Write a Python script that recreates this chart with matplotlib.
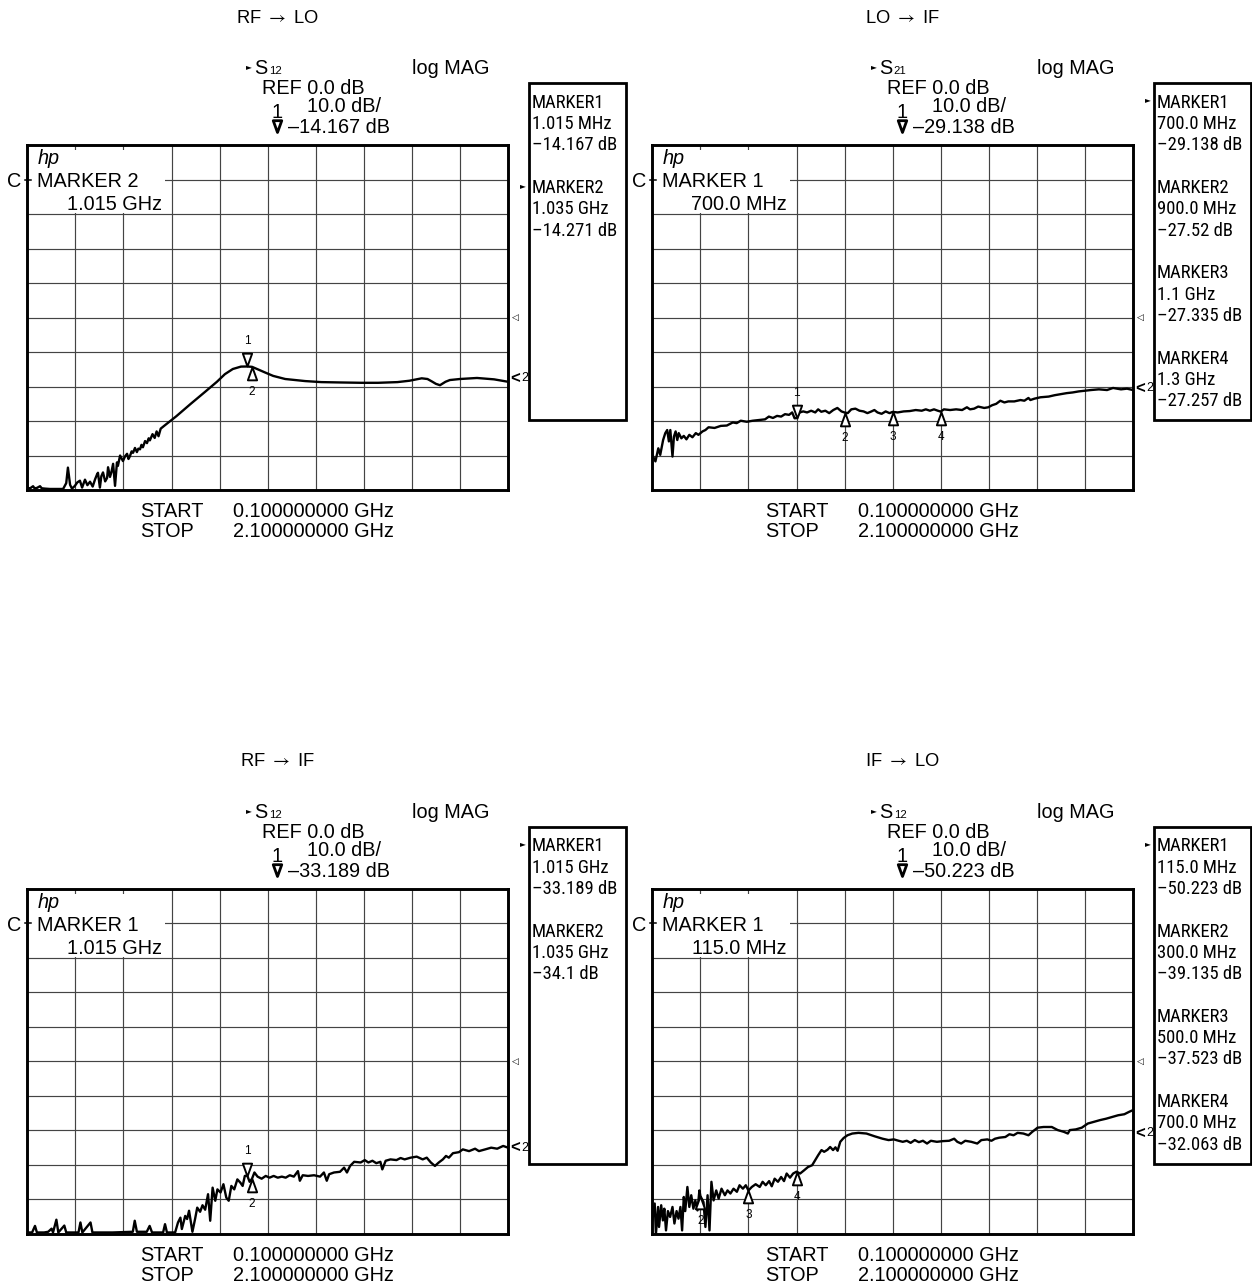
import matplotlib
matplotlib.use("Agg")
import matplotlib.pyplot as plt
import numpy as np
from matplotlib.path import Path
from matplotlib.patches import Rectangle
from matplotlib.lines import Line2D
from matplotlib import font_manager as fm

# ---------------- sweep / display settings ----------------
F_START, F_STOP = 0.1, 2.1            # GHz
REF_DB, DB_PER_DIV, N_DIV = 0.0, 10.0, 10

# ---------------- panel texts ----------------
titles = [("RF", "LO"), ("LO", "IF"), ("RF", "IF"), ("IF", "LO")]
s_params = ["12", "21", "12", "12"]
active_names = ["MARKER 2", "MARKER 1", "MARKER 1", "MARKER 1"]
active_freqs = ["1.015 GHz", "700.0 MHz", "1.015 GHz", "115.0 MHz"]
active_index = [1, 0, 0, 0]
start_label = "0.100000000 GHz"
stop_label = "2.100000000 GHz"

# ---------------- marker readouts ----------------
mk_rf_lo_f = [1.015, 1.035]
mk_rf_lo_db = [-14.167, -14.271]
mk_rf_lo_txt = ["1.015 MHz", "1.035 GHz"]

mk_lo_if_f = [0.7, 0.9, 1.1, 1.3]
mk_lo_if_db = [-29.138, -27.52, -27.335, -27.257]
mk_lo_if_txt = ["700.0 MHz", "900.0 MHz", "1.1 GHz", "1.3 GHz"]

mk_rf_if_f = [1.015, 1.035]
mk_rf_if_db = [-33.189, -34.1]
mk_rf_if_txt = ["1.015 GHz", "1.035 GHz"]

mk_if_lo_f = [0.115, 0.3, 0.5, 0.7]
mk_if_lo_db = [-50.223, -39.135, -37.523, -32.063]
mk_if_lo_txt = ["115.0 MHz", "300.0 MHz", "500.0 MHz", "700.0 MHz"]

# channel-2 reference level indicators
ch2_ref_db = [-17.6, -20.5, -25.1, -20.9]

# ---------------- measured traces (GHz, dB) ----------------
rf_lo_f = [0.100, 0.112, 0.124, 0.130, 0.140, 0.153, 0.160, 0.174, 0.194, 0.249,
           0.262, 0.269, 0.278, 0.286, 0.298, 0.308, 0.319, 0.328, 0.340, 0.350,
           0.361, 0.372, 0.382, 0.390, 0.394, 0.402, 0.408, 0.415, 0.424, 0.432,
           0.436, 0.444, 0.450, 0.457, 0.465, 0.473, 0.477, 0.486, 0.498, 0.507,
           0.515, 0.521, 0.527, 0.534, 0.540, 0.548, 0.556, 0.562, 0.569, 0.575,
           0.581, 0.590, 0.598, 0.605, 0.610, 0.621, 0.630, 0.638, 0.646, 0.655,
           0.671, 0.720, 0.780, 0.840, 0.889, 0.922, 0.955, 0.989, 1.015, 1.035,
           1.056, 1.089, 1.123, 1.173, 1.256, 1.323, 1.400, 1.490, 1.560, 1.640,
           1.690, 1.741, 1.765, 1.783, 1.800, 1.817, 1.840, 1.858, 1.900, 1.971,
           2.042, 2.100]
rf_lo_db = [-49.4, -49.5, -48.9, -49.5, -49.4, -48.9, -49.5, -49.6, -49.7, -49.7,
            -48.0, -43.5, -48.5, -49.6, -48.8, -47.8, -47.3, -49.3, -47.0, -48.6,
            -47.6, -49.0, -46.9, -45.5, -45.0, -49.3, -46.0, -44.9, -47.5, -46.5,
            -43.4, -46.2, -44.8, -42.4, -48.8, -42.0, -43.0, -40.0, -41.6, -40.2,
            -39.5, -41.0, -40.2, -38.8, -39.2, -37.8, -39.0, -38.0, -38.2, -36.9,
            -37.6, -35.8, -36.4, -35.0, -35.6, -33.8, -34.9, -33.0, -34.4, -32.2,
            -31.3, -28.6, -25.0, -21.5, -18.6, -16.4, -14.9, -14.2, -14.167, -14.271,
            -14.9, -15.9, -16.9, -17.8, -18.4, -18.7, -18.8, -18.9, -18.9, -18.7,
            -18.3, -17.6, -17.8, -18.5, -19.2, -19.6, -18.6, -18.1, -17.8, -17.5,
            -17.9, -18.6]

lo_if_f = [0.100, 0.113, 0.125, 0.133, 0.145, 0.154, 0.162, 0.169, 0.175, 0.184,
           0.190, 0.197, 0.204, 0.210, 0.221, 0.231, 0.242, 0.254, 0.267, 0.281,
           0.292, 0.309, 0.321, 0.334, 0.359, 0.385, 0.410, 0.435, 0.451, 0.468,
           0.493, 0.518, 0.544, 0.569, 0.585, 0.602, 0.619, 0.636, 0.652, 0.669,
           0.682, 0.692, 0.700, 0.713, 0.728, 0.744, 0.761, 0.778, 0.790, 0.803,
           0.820, 0.836, 0.853, 0.870, 0.887, 0.900, 0.913, 0.928, 0.945, 0.962,
           0.979, 0.995, 1.012, 1.024, 1.037, 1.054, 1.071, 1.087, 1.100, 1.121,
           1.146, 1.171, 1.196, 1.221, 1.238, 1.255, 1.272, 1.288, 1.300, 1.313,
           1.339, 1.364, 1.389, 1.409, 1.422, 1.439, 1.456, 1.481, 1.498, 1.514,
           1.531, 1.548, 1.565, 1.581, 1.606, 1.632, 1.648, 1.665, 1.673, 1.690,
           1.715, 1.749, 1.774, 1.799, 1.824, 1.849, 1.874, 1.900, 1.925, 1.958,
           1.992, 2.017, 2.050, 2.075, 2.100]
lo_if_db = [-39.8, -41.7, -37.9, -39.8, -35.5, -33.5, -32.6, -35.9, -32.6, -40.3,
            -34.5, -33.0, -35.5, -33.5, -35.0, -34.3, -35.3, -34.0, -34.7, -33.5,
            -34.0, -33.0, -32.6, -31.8, -32.0, -31.4, -31.3, -30.4, -30.6, -29.9,
            -30.2, -29.9, -29.7, -29.5, -28.7, -29.1, -28.5, -28.7, -28.0, -28.2,
            -27.5, -29.2, -29.138, -27.5, -27.2, -27.5, -27.0, -27.5, -26.6, -27.3,
            -27.0, -27.7, -26.8, -26.2, -27.2, -27.52, -27.7, -26.6, -26.4, -27.0,
            -27.2, -27.7, -27.2, -26.8, -27.5, -27.9, -27.2, -27.7, -27.335, -27.5,
            -27.2, -27.1, -26.8, -27.0, -26.6, -27.0, -26.6, -27.0, -27.257, -26.6,
            -26.8, -26.6, -26.8, -26.0, -26.6, -26.4, -25.8, -26.2, -26.0, -25.4,
            -25.0, -24.1, -24.6, -24.3, -24.3, -23.9, -24.1, -23.3, -23.9, -23.5,
            -23.1, -22.9, -22.5, -22.2, -21.9, -21.7, -21.4, -21.2, -21.0, -20.8,
            -21.0, -20.4, -20.8, -20.6, -21.0]

rf_if_f = [0.100, 0.120, 0.132, 0.140, 0.170, 0.187, 0.201, 0.207, 0.221, 0.229,
           0.254, 0.262, 0.313, 0.321, 0.329, 0.363, 0.371, 0.455, 0.539, 0.547,
           0.556, 0.597, 0.609, 0.619, 0.665, 0.673, 0.681, 0.715, 0.727, 0.737,
           0.743, 0.757, 0.765, 0.773, 0.787, 0.798, 0.807, 0.819, 0.829, 0.840,
           0.852, 0.861, 0.871, 0.882, 0.891, 0.904, 0.916, 0.928, 0.938, 0.949,
           0.961, 0.974, 0.986, 0.996, 1.005, 1.015, 1.025, 1.035, 1.045, 1.058,
           1.075, 1.092, 1.108, 1.125, 1.142, 1.159, 1.175, 1.192, 1.209, 1.226,
           1.234, 1.246, 1.268, 1.293, 1.318, 1.334, 1.346, 1.356, 1.376, 1.401,
           1.418, 1.430, 1.443, 1.460, 1.487, 1.504, 1.519, 1.536, 1.552, 1.569,
           1.577, 1.591, 1.611, 1.636, 1.653, 1.670, 1.695, 1.720, 1.745, 1.762,
           1.779, 1.796, 1.812, 1.829, 1.842, 1.854, 1.871, 1.896, 1.912, 1.938,
           1.963, 1.979, 2.005, 2.030, 2.055, 2.080, 2.100]
rf_if_db = [-49.7, -49.7, -47.8, -49.7, -49.7, -49.5, -48.6, -49.7, -46.0, -49.7,
            -47.7, -49.7, -49.7, -46.8, -49.7, -46.8, -49.7, -49.7, -49.5, -46.3,
            -49.5, -49.5, -47.8, -49.7, -49.7, -47.3, -49.7, -49.7, -46.8, -45.4,
            -48.7, -44.9, -45.8, -43.4, -49.5, -45.8, -42.5, -43.7, -41.8, -43.1,
            -38.6, -46.3, -36.7, -40.5, -37.2, -38.1, -35.7, -39.6, -40.5, -36.2,
            -37.2, -34.3, -35.2, -36.2, -33.3, -33.189, -35.0, -34.1, -32.3, -33.5,
            -34.1, -33.3, -33.8, -33.3, -33.8, -33.5, -33.8, -33.1, -33.5, -31.9,
            -34.7, -33.1, -33.3, -33.1, -33.5, -32.3, -34.7, -32.8, -32.3, -32.1,
            -30.9, -32.3, -30.4, -29.2, -29.4, -28.7, -29.4, -28.9, -29.6, -29.2,
            -31.4, -28.9, -28.5, -28.7, -28.1, -28.5, -28.0, -27.7, -28.5, -28.0,
            -29.4, -30.4, -29.4, -28.5, -27.5, -28.0, -26.7, -26.4, -25.6, -26.1,
            -25.4, -26.1, -25.6, -25.1, -25.4, -24.6, -25.1]

if_lo_f = [0.100, 0.110, 0.115, 0.124, 0.128, 0.137, 0.144, 0.150, 0.157, 0.165,
           0.174, 0.184, 0.192, 0.201, 0.209, 0.217, 0.224, 0.231, 0.237, 0.246,
           0.254, 0.262, 0.271, 0.279, 0.288, 0.296, 0.300, 0.313, 0.321, 0.330,
           0.338, 0.346, 0.355, 0.366, 0.376, 0.388, 0.402, 0.413, 0.425, 0.438,
           0.452, 0.463, 0.477, 0.489, 0.500, 0.514, 0.530, 0.547, 0.559, 0.572,
           0.586, 0.597, 0.609, 0.623, 0.636, 0.648, 0.659, 0.673, 0.686, 0.700,
           0.715, 0.731, 0.748, 0.765, 0.777, 0.790, 0.804, 0.815, 0.829, 0.840,
           0.852, 0.862, 0.871, 0.882, 0.896, 0.912, 0.932, 0.958, 0.991, 1.025,
           1.058, 1.083, 1.105, 1.125, 1.142, 1.159, 1.175, 1.192, 1.209, 1.226,
           1.243, 1.259, 1.284, 1.309, 1.335, 1.356, 1.369, 1.385, 1.402, 1.427,
           1.452, 1.469, 1.494, 1.511, 1.526, 1.544, 1.569, 1.586, 1.603, 1.620,
           1.644, 1.665, 1.681, 1.703, 1.728, 1.762, 1.787, 1.812, 1.829, 1.837,
           1.862, 1.887, 1.912, 1.938, 1.963, 1.988, 2.013, 2.038, 2.064, 2.084,
           2.100]
if_lo_db = [-46.2, -41.3, -50.223, -42.3, -48.1, -41.8, -46.2, -42.8, -49.1, -43.5,
            -45.2, -42.3, -47.1, -43.5, -45.7, -42.3, -49.1, -39.4, -43.5, -36.5,
            -42.3, -38.9, -42.8, -40.4, -43.3, -37.5, -39.135, -40.9, -48.1, -38.9,
            -49.1, -35.0, -40.4, -37.5, -39.9, -37.0, -38.9, -37.5, -38.4, -37.0,
            -37.9, -36.0, -37.0, -36.0, -37.523, -36.5, -35.7, -36.5, -35.0, -36.0,
            -34.8, -36.3, -34.1, -35.0, -33.6, -34.8, -32.6, -33.8, -32.6, -32.063,
            -32.6, -31.7, -30.7, -30.2, -28.8, -27.3, -25.8, -26.3, -25.7, -24.9,
            -25.8, -25.0, -26.0, -23.4, -22.3, -21.5, -21.0, -20.8, -21.0, -21.8,
            -22.5, -22.9, -22.7, -23.1, -23.4, -23.1, -23.7, -22.9, -23.5, -23.1,
            -23.9, -23.1, -23.4, -23.2, -23.1, -22.5, -23.4, -23.9, -23.1, -23.4,
            -23.9, -22.9, -22.7, -23.1, -22.5, -22.2, -22.0, -21.2, -21.5, -20.8,
            -21.0, -21.5, -20.5, -19.3, -19.1, -19.1, -20.0, -20.5, -21.0, -20.0,
            -19.8, -19.3, -18.1, -17.6, -17.1, -16.7, -16.2, -15.7, -15.4, -14.7,
            -14.2]

traces = [(rf_lo_f, rf_lo_db), (lo_if_f, lo_if_db), (rf_if_f, rf_if_db), (if_lo_f, if_lo_db)]
markers = [(mk_rf_lo_f, mk_rf_lo_db, mk_rf_lo_txt),
           (mk_lo_if_f, mk_lo_if_db, mk_lo_if_txt),
           (mk_rf_if_f, mk_rf_if_db, mk_rf_if_txt),
           (mk_if_lo_f, mk_if_lo_db, mk_if_lo_txt)]

# ---------------- fonts ----------------
SANS = ["Liberation Sans", "DejaVu Sans"]
MAIN = 14.3


def pick_narrow():
    """Return FontProperties for a narrow sans face if one is installed."""
    prefs = ["Liberation Sans Narrow", "Arial Narrow", "Roboto Condensed",
             "Open Sans Condensed", "DejaVu Sans Condensed"]
    entries = [e for e in fm.fontManager.ttflist
               if e.style == "normal" and e.weight in (400, "normal", "regular", "book")]
    for name in prefs:
        for e in entries:
            if e.name == name:
                return fm.FontProperties(fname=e.fname), 13.4
    for e in entries:
        if ("Narrow" in e.name or "Condensed" in e.name
                or str(e.stretch) in ("condensed", "semi-condensed")):
            return fm.FontProperties(fname=e.fname), 13.2
    return fm.FontProperties(family="Liberation Sans"), 12.2


NARROW_FP, NARROW_SIZE = pick_narrow()

# ---------------- figure & layout (pixel units) ----------------
W, H = 1252, 1288
fig = plt.figure(figsize=(W / 100, H / 100), dpi=100)
fig.patch.set_facecolor("white")

BOX_W, BOX_H = 480.7, 344.7
origins = [(27.3, 145.3), (652.3, 145.3), (27.3, 888.8), (652.3, 888.8)]

TRI_DOWN = Path([(0, 0), (-0.36, 1), (0.36, 1), (0, 0)],
                [Path.MOVETO, Path.LINETO, Path.LINETO, Path.CLOSEPOLY])
TRI_UP = Path([(0, 0), (-0.36, -1), (0.36, -1), (0, 0)],
              [Path.MOVETO, Path.LINETO, Path.LINETO, Path.CLOSEPOLY])

y_lo = REF_DB - DB_PER_DIV * N_DIV / 2
y_hi = REF_DB + DB_PER_DIV * N_DIV / 2

for i, (bx, by) in enumerate(origins):
    ax = fig.add_axes([bx / W, 1 - (by + BOX_H) / H, BOX_W / W, BOX_H / H])
    ax.set_xlim(F_START, F_STOP)
    ax.set_ylim(y_lo, y_hi)
    ax.set_xticks(np.linspace(F_START, F_STOP, N_DIV + 1))
    ax.set_yticks(np.linspace(y_lo, y_hi, N_DIV + 1))
    ax.tick_params(length=0, labelbottom=False, labelleft=False)
    ax.set_axisbelow(True)
    ax.grid(True, color="#444444", lw=0.85)
    for sp in ax.spines.values():
        sp.set_linewidth(2.1)
        sp.set_color("black")

    # blank area behind the annotation block
    ax.add_patch(Rectangle((0, 1 - 68 / BOX_H), 138 / BOX_W, (68 - 5) / BOX_H,
                           transform=ax.transAxes, fc="white", ec="none", zorder=1))

    f, db = traces[i]
    ax.plot(f, db, color="black", lw=1.7, solid_joinstyle="round", zorder=3)

    mf, mdb, _ = markers[i]
    for k, (x, v) in enumerate(zip(mf, mdb)):
        if v < y_lo or v > y_hi:
            continue
        above = (k == 0)
        ax.plot([x], [v], marker=TRI_DOWN if above else TRI_UP, ms=18.5, mfc="white",
                mec="black", mew=1.4, ls="none", zorder=4)
        ax.annotate(str(k + 1), xy=(x, v), xytext=(0, 25 if above else -25),
                    textcoords="offset pixels", ha="center", va="center",
                    fontsize=8.5, family=SANS, zorder=5)

    # reference position and channel-2 indicators on the right edge
    ax.annotate("◁", xy=(1, REF_DB), xycoords=("axes fraction", "data"),
                xytext=(7, 0), textcoords="offset pixels", ha="center", va="center",
                fontsize=6.5, family=["DejaVu Sans"], annotation_clip=False)
    ax.annotate("<", xy=(1, ch2_ref_db[i]), xycoords=("axes fraction", "data"),
                xytext=(2, 0), textcoords="offset pixels", ha="left", va="center",
                fontsize=12, fontweight="bold", family=SANS, annotation_clip=False)
    ax.annotate("2", xy=(1, ch2_ref_db[i]), xycoords=("axes fraction", "data"),
                xytext=(13, 0), textcoords="offset pixels", ha="left", va="center",
                fontsize=9, family=SANS, annotation_clip=False)

# ---------------- overlay for labels and readout boxes ----------------
ov = fig.add_axes([0, 0, 1, 1])
ov.set_xlim(0, W)
ov.set_ylim(H, 0)
ov.axis("off")


def txt(x, y, s, size=MAIN, ha="left", va="baseline", family=SANS, **kw):
    ov.text(x, y, s, fontsize=size, ha=ha, va=va, family=family, **kw)


def ntxt(x, y, s):
    fp = NARROW_FP.copy()
    fp.set_size(NARROW_SIZE)
    ov.text(x, y, s, fontproperties=fp, ha="left", va="baseline")


for i, (bx, by) in enumerate(origins):
    mf, mdb, mtxt = markers[i]
    # title
    a, b = titles[i]
    ov.text(bx + 250, by - 122.5, f"{a} $\\rightarrow$ {b}", fontsize=13.2, ha="center",
            va="baseline", family=SANS, math_fontfamily="stixsans")
    # header block
    txt(bx + 222, by - 78.5, "►", size=5.5, ha="center", va="center", family=["DejaVu Sans"])
    txt(bx + 226.5, by - 71.3, "S")
    txt(bx + 241.5, by - 71.3, s_params[i], size=8.2)
    txt(bx + 384.7, by - 71.3, "log MAG")
    txt(bx + 234.4, by - 51.3, "REF 0.0 dB")
    txt(bx + 249.7, by - 27.3, "1", ha="center")
    txt(bx + 279.4, by - 33.3, f"{DB_PER_DIV:.1f} dB/")
    ov.plot([bx + 249.7], [by - 13.0], marker=TRI_DOWN, ms=17, mfc="white", mec="black",
            mew=2.0, ls="none")
    txt(bx + 261.0, by - 12.3, f"–{abs(mdb[0]):g} dB")

    # annotation block inside the grid
    txt(bx + 10, by + 19, "hp", style="italic")
    txt(bx + 10, by + 42, active_names[i])
    txt(bx + 134.4, by + 64.7, active_freqs[i], ha="right")
    txt(bx - 13.5, by + 42, "C", ha="center")
    ov.add_line(Line2D([bx - 2, bx + 4], [by + 34.5, by + 34.5], color="black", lw=1.1))

    # sweep limits
    txt(bx + 112.7, by + BOX_H + 27.3, "START")
    txt(bx + 205.7, by + BOX_H + 27.3, start_label)
    txt(bx + 112.7, by + BOX_H + 47.3, "STOP")
    txt(bx + 205.7, by + BOX_H + 47.3, stop_label)

    # marker readout box
    mx, my = bx + 501.3, by - 62.3
    ov.add_patch(Rectangle((mx, my), 97, 337, fill=False, ec="black", lw=2.0))
    for k, (v, ft) in enumerate(zip(mdb, mtxt)):
        base = by - 37.5 + 85.3 * k
        if k == active_index[i]:
            txt(mx - 6, base - 8, "►", size=5.5, ha="center", va="center",
                family=["DejaVu Sans"])
        ntxt(mx + 3.5, base, f"MARKER{k + 1}")
        ntxt(mx + 3.5, base + 21.3, ft)
        ntxt(mx + 3.5, base + 42.6, f"–{abs(v):g} dB")

fig.savefig("out.png", dpi=100, facecolor="white")
